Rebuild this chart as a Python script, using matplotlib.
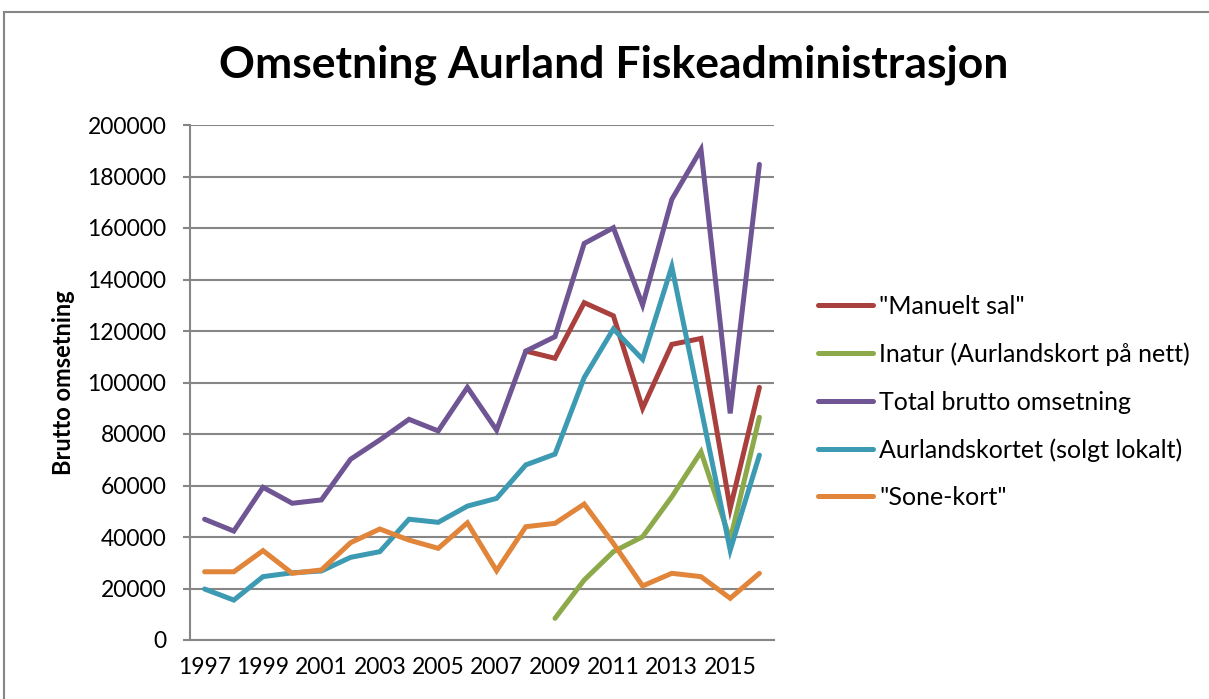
import numpy as np
import matplotlib.pyplot as plt
from matplotlib.lines import Line2D

plt.rcParams.update({"font.family": "Lato", "font.size": 16})

# data
years = list(range(1997, 2017))
tick_years = years[::2]
nan = np.nan

manuelt_sal = [nan] * 11 + [112200, 109400, 131000, 125900, 90000, 114800, 117100, 51100, 98100]
inatur = [nan] * 12 + [8400, 23300, 34300, 40100, 55600, 73100, 39000, 86500]
total = [46900, 42300, 59300, 53100, 54400, 70200, 77700, 85700, 81200, 98100,
         81500, 112200, 117800, 154000, 160100, 130100, 171100, 190500, 88000, 184700]
aurlandskortet = [19800, 15500, 24600, 26100, 26800, 32100, 34300, 46900, 45700, 52000,
                  55000, 68000, 72200, 101900, 120800, 109000, 145000, 90000, 34900, 71800]
sone_kort = [26500, 26500, 34700, 25900, 27200, 37800, 43100, 38800, 35600, 45500,
             26900, 44000, 45300, 52800, 37500, 21000, 25900, 24600, 16200, 25900]

series = [
    ('"Manuelt sal"', manuelt_sal, "#A9403D"),
    ("Inatur (Aurlandskort på nett)", inatur, "#8DAA4B"),
    ("Total brutto omsetning", total, "#6F5593"),
    ("Aurlandskortet (solgt lokalt)", aurlandskortet, "#3C9AB2"),
    ('"Sone-kort"', sone_kort, "#E0853A"),
]

gridc = "#868686"

fig = plt.figure(figsize=(12.09, 6.99), dpi=100)
ax = fig.add_axes([190 / 1209, 1 - 640 / 699, (774 - 190) / 1209, (640 - 125) / 699])

x = np.arange(len(years))
for label, vals, col in series:
    ax.plot(x, vals, color=col, lw=3.6, label=label,
            solid_capstyle="round", solid_joinstyle="miter")

ax.set_xlim(-0.5, len(years) - 0.5)
ax.set_ylim(0, 200000)
ax.set_yticks(range(0, 200001, 20000))
ax.set_xticks([years.index(y) for y in tick_years])
ax.set_xticklabels([str(y) for y in tick_years])
ax.grid(axis="y", color=gridc, lw=1.5)
ax.set_axisbelow(True)

for s in ["top", "right"]:
    ax.spines[s].set_visible(False)
for s in ["left", "bottom"]:
    ax.spines[s].set_color(gridc)
    ax.spines[s].set_linewidth(1.5)
ax.tick_params(axis="y", length=5, color=gridc, width=1.5, pad=12, labelsize=16.5)
ax.tick_params(axis="x", length=0, pad=12, labelsize=16.5)

ax.set_ylabel("Brutto omsetning", fontweight="bold", fontsize=17, labelpad=9)

fig.text(614 / 1209, 1 - 65 / 699, "Omsetning Aurland Fiskeadministrasjon",
         ha="center", va="center", fontsize=32, fontweight="bold")

handles = [Line2D([], [], color=c, lw=3.6, solid_capstyle="round") for _, _, c in series]
fig.legend(handles, [s[0] for s in series], loc="upper left",
           bbox_to_anchor=(818 / 1209, 1 - 295 / 699), frameon=False,
           fontsize=18, handlelength=2.2, handletextpad=0.25, labelspacing=0.98,
           borderpad=0, borderaxespad=0)

# outer chart frame
fig.add_artist(Line2D([4 / 1209, 1.01], [1 - 12 / 699] * 2, color=gridc, lw=1.5))
fig.add_artist(Line2D([4 / 1209] * 2, [-0.01, 1 - 12 / 699], color=gridc, lw=1.5))

fig.savefig("out.png", dpi=100)
